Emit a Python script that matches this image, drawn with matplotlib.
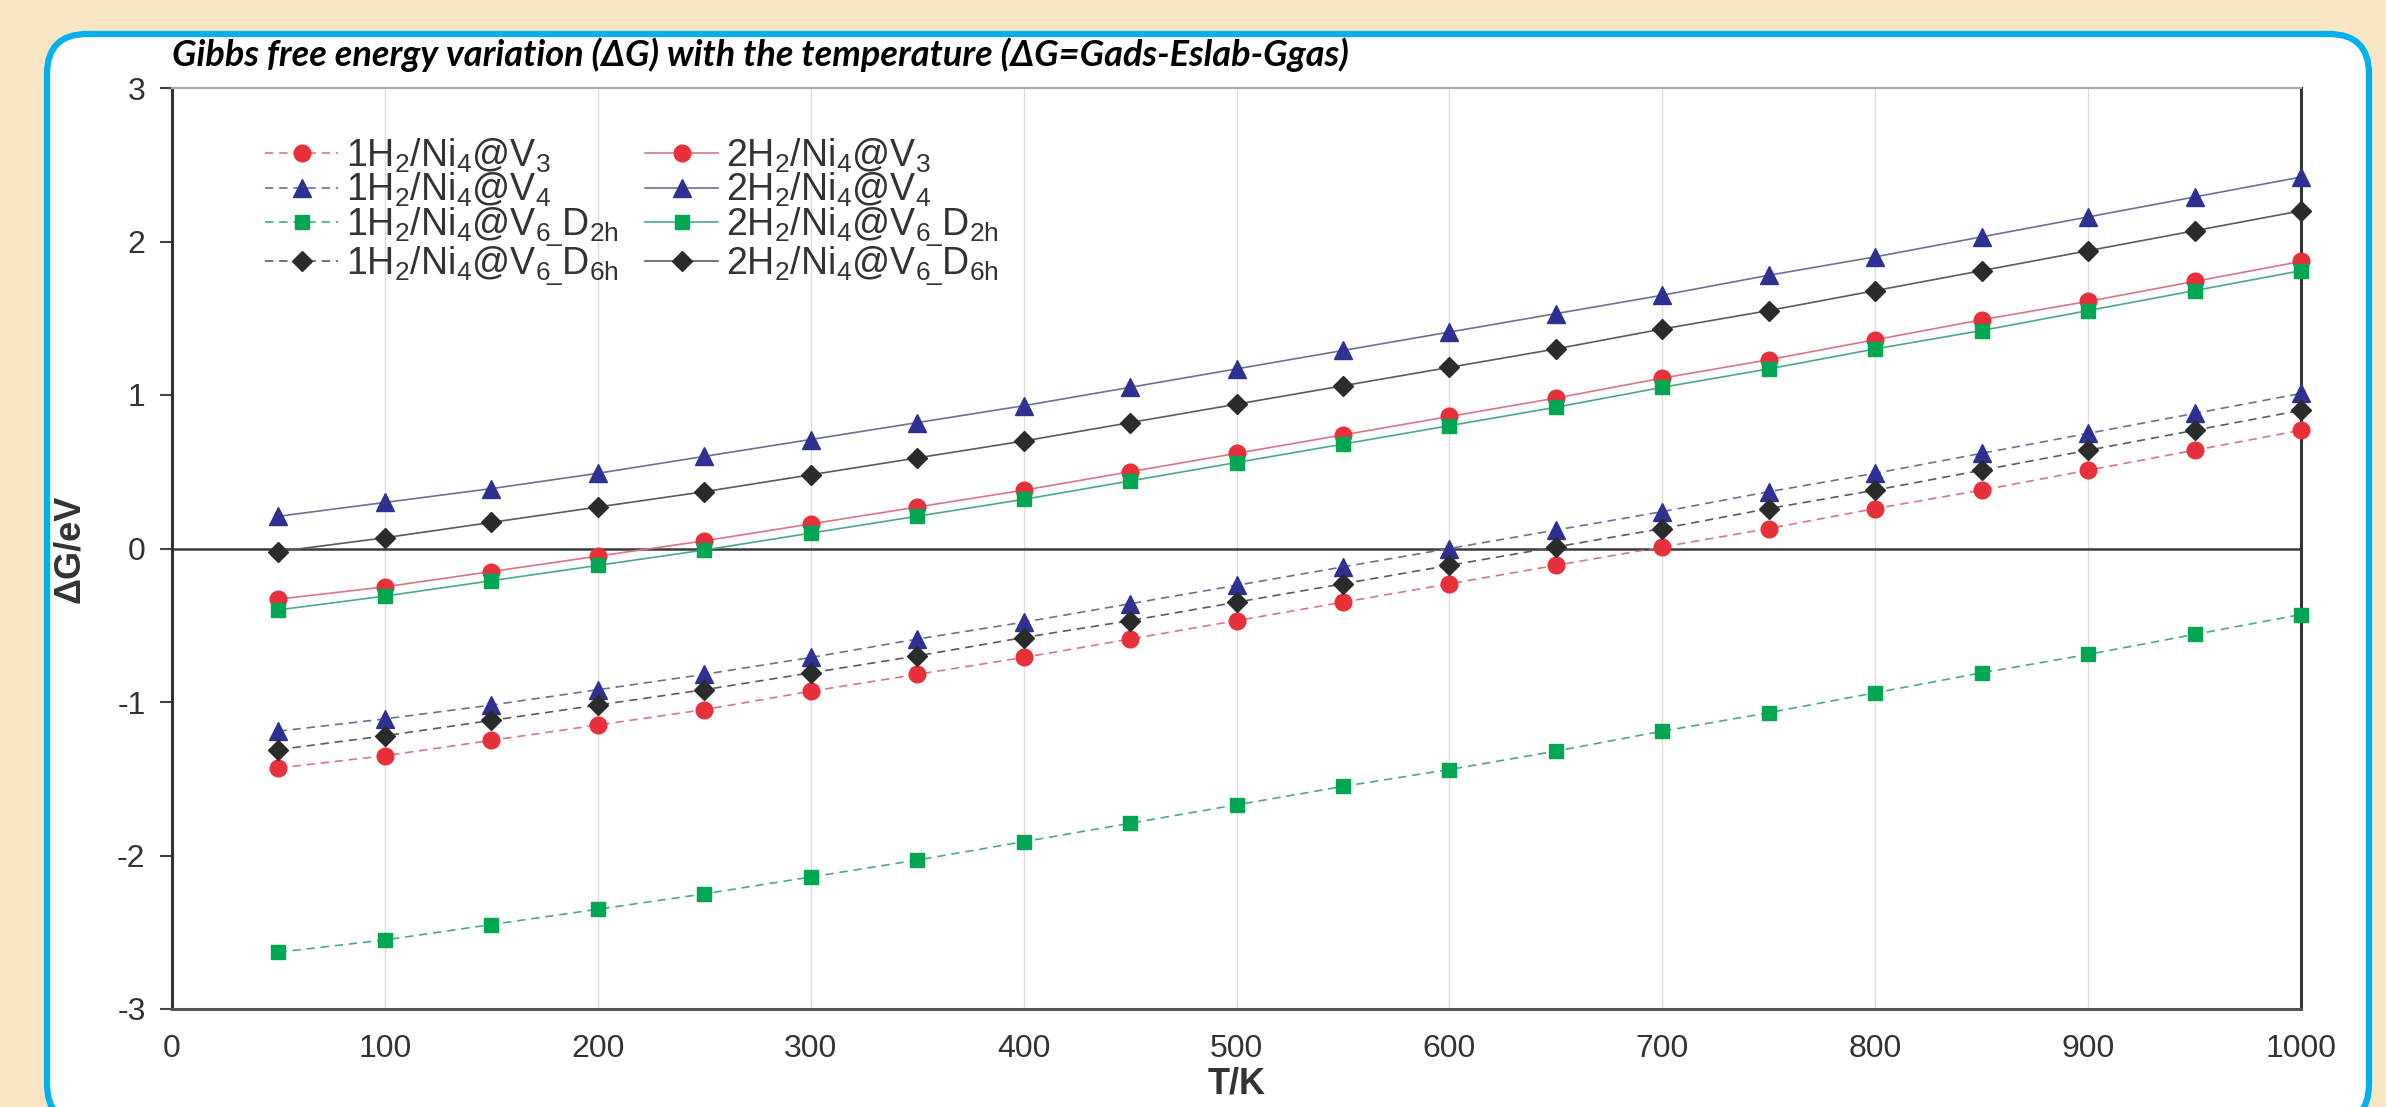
import numpy as np
import matplotlib.pyplot as plt
from matplotlib.patches import FancyBboxPatch

# temperature points (K)
T = [50, 100, 150, 200, 250, 300, 350, 400, 450, 500,
     550, 600, 650, 700, 750, 800, 850, 900, 950, 1000]

# 1 H2 adsorbed
g1_v3 = [-1.43, -1.35, -1.25, -1.15, -1.05, -0.93, -0.82, -0.71, -0.59, -0.47,
         -0.35, -0.23, -0.11, 0.01, 0.13, 0.26, 0.38, 0.51, 0.64, 0.77]
g1_v4 = [-1.19, -1.11, -1.02, -0.92, -0.82, -0.71, -0.59, -0.48, -0.36, -0.24,
         -0.12, 0.00, 0.12, 0.24, 0.37, 0.49, 0.62, 0.75, 0.88, 1.01]
g1_d2h = [-2.63, -2.55, -2.45, -2.35, -2.25, -2.14, -2.03, -1.91, -1.79, -1.67,
          -1.55, -1.44, -1.32, -1.19, -1.07, -0.94, -0.81, -0.69, -0.56, -0.43]
g1_d6h = [-1.31, -1.22, -1.12, -1.02, -0.92, -0.81, -0.70, -0.58, -0.47, -0.35,
          -0.23, -0.11, 0.01, 0.13, 0.26, 0.38, 0.51, 0.64, 0.77, 0.90]

# 2 H2 adsorbed
g2_v3 = [-0.33, -0.25, -0.15, -0.05, 0.05, 0.16, 0.27, 0.38, 0.50, 0.62,
         0.74, 0.86, 0.98, 1.11, 1.23, 1.36, 1.49, 1.61, 1.74, 1.87]
g2_v4 = [0.21, 0.30, 0.39, 0.49, 0.60, 0.71, 0.82, 0.93, 1.05, 1.17,
         1.29, 1.41, 1.53, 1.65, 1.78, 1.90, 2.03, 2.16, 2.29, 2.42]
g2_d2h = [-0.40, -0.31, -0.21, -0.11, -0.01, 0.10, 0.21, 0.32, 0.44, 0.56,
          0.68, 0.80, 0.92, 1.05, 1.17, 1.30, 1.42, 1.55, 1.68, 1.81]
g2_d6h = [-0.02, 0.07, 0.17, 0.27, 0.37, 0.48, 0.59, 0.70, 0.82, 0.94,
          1.06, 1.18, 1.30, 1.43, 1.55, 1.68, 1.81, 1.94, 2.07, 2.20]

labels1 = [r'1H$_2$/Ni$_4$@V$_3$', r'1H$_2$/Ni$_4$@V$_4$',
           r'1H$_2$/Ni$_4$@V$_{6\!\_}$D$_{2h}$', r'1H$_2$/Ni$_4$@V$_{6\!\_}$D$_{6h}$']
labels2 = [r'2H$_2$/Ni$_4$@V$_3$', r'2H$_2$/Ni$_4$@V$_4$',
           r'2H$_2$/Ni$_4$@V$_{6\!\_}$D$_{2h}$', r'2H$_2$/Ni$_4$@V$_{6\!\_}$D$_{6h}$']

xticks = [0, 100, 200, 300, 400, 500, 600, 700, 800, 900, 1000]
yticks = [-3, -2, -1, 0, 1, 2, 3]

marker_cols = ['#e8303a', '#2e3192', '#00a651', '#2b2b2b']
line_cols = ['#d97680', '#6c6f96', '#48a98a', '#5a5a5a']
markers = ['o', '^', 's', 'D']
msizes = [12, 13, 10.5, 10]

plt.rcParams['font.family'] = ['Liberation Sans', 'DejaVu Sans']
plt.rcParams['mathtext.fontset'] = 'custom'
plt.rcParams['mathtext.rm'] = 'Liberation Sans'
plt.rcParams['mathtext.it'] = 'Liberation Sans:italic'
plt.rcParams['mathtext.bf'] = 'Liberation Sans:bold'
plt.rcParams['mathtext.default'] = 'rm'
plt.rcParams['axes.unicode_minus'] = False

W, H = 2386, 1107
fig = plt.figure(figsize=(W / 100, H / 100), dpi=100)
fig.patch.set_facecolor('#f7e5c4')

# background panel
bg = fig.add_axes([0, 0, 1, 1])
bg.set_xlim(0, W)
bg.set_ylim(H, 0)
bg.axis('off')
panel = FancyBboxPatch((47, 34), 2322, 1090, boxstyle='round,pad=0,rounding_size=40',
                       fc='white', ec='#00b0f0', lw=4.5)
bg.add_patch(panel)

ax = fig.add_axes([172 / W, 1 - 1009 / H, (2301 - 172) / W, (1009 - 88) / H])
ax.set_facecolor('none')

series1 = [g1_v3, g1_v4, g1_d2h, g1_d6h]
series2 = [g2_v3, g2_v4, g2_d2h, g2_d6h]
handles = []
for i in range(4):
    h, = ax.plot(T, series1[i], color=line_cols[i], lw=1.2, ls=(0, (5, 3.5)),
                 marker=markers[i], ms=msizes[i], mfc=marker_cols[i], mec=marker_cols[i],
                 label=labels1[i], clip_on=False, zorder=3)
    handles.append(h)
for i in range(4):
    h, = ax.plot(T, series2[i], color=line_cols[i], lw=1.2, ls='-',
                 marker=markers[i], ms=msizes[i], mfc=marker_cols[i], mec=marker_cols[i],
                 label=labels2[i], clip_on=False, zorder=3)
    handles.append(h)

ax.axhline(0, color='#3a3a3a', lw=1.8, zorder=2)
ax.set_xlim(0, 1000)
ax.set_ylim(-3, 3)
ax.set_xticks(xticks)
ax.set_yticks(yticks)
ax.grid(axis='x', color='#dcdcdc', lw=1)
ax.set_axisbelow(True)
ax.tick_params(axis='x', length=0, pad=18, labelsize=23, labelcolor='#333333')
ax.tick_params(axis='y', length=9, width=1.5, color='#444444', pad=10,
               labelsize=23, labelcolor='#333333')

ax.spines['left'].set_color('#333333')
ax.spines['left'].set_linewidth(2.2)
ax.spines['right'].set_color('#333333')
ax.spines['right'].set_linewidth(2.2)
ax.spines['bottom'].set_color('#555555')
ax.spines['bottom'].set_linewidth(2.2)
ax.spines['top'].set_color('#aaaaaa')
ax.spines['top'].set_linewidth(1.5)

ax.set_xlabel('T/K', fontsize=26, fontweight='bold', color='#333333', labelpad=2)
ax.set_ylabel('ΔG/eV', fontsize=26, fontweight='bold', fontstyle='normal',
              family=['Liberation Sans'], color='#333333', labelpad=22)

leg = ax.legend(handles=handles, ncol=2, loc='upper left', bbox_to_anchor=(0.035, 0.968),
                frameon=False, fontsize=27, handlelength=1.95, handletextpad=0.2,
                columnspacing=0.7, labelspacing=-0.1, borderpad=0)
for t in leg.get_texts():
    t.set_color('#333333')

fig.text(172 / W, 1 - 55 / H,
         'Gibbs free energy variation (ΔG) with the temperature (ΔG=Gads-Eslab-Ggas)',
         fontsize=26, fontweight='bold', fontstyle='italic', family=['Lato', 'DejaVu Sans'],
         va='center', ha='left', color='black')

fig.savefig('out.png', dpi=100, facecolor=fig.get_facecolor())
